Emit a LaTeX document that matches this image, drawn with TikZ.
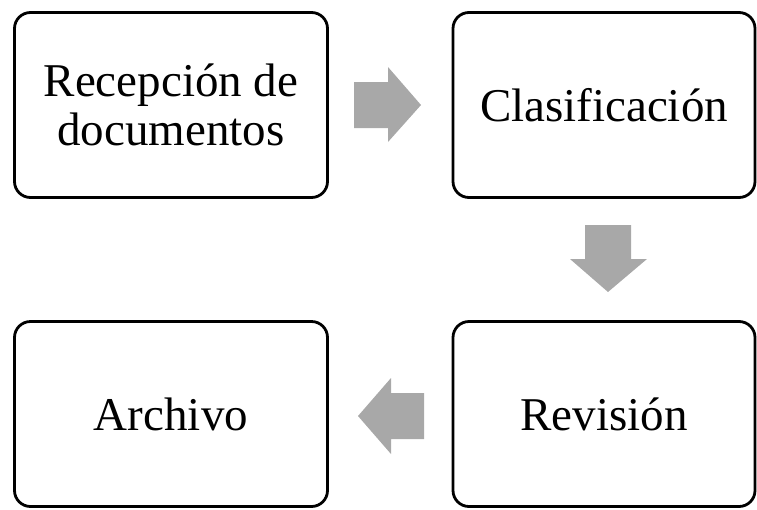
\documentclass[tikz,border=0pt]{standalone}
\usepackage{fontspec}
\setmainfont{Liberation Serif}
\definecolor{arrowgray}{RGB}{168,168,168}
\tikzset{
  stagebox/.style={draw, line width=2.8pt, rounded corners=16pt, align=center,
    minimum width=#1, minimum height=185pt, inner sep=0pt,
    font=\fontsize{47}{49}\selectfont},
  blockarrow/.style={fill=arrowgray}
}

\begin{document}
\begin{tikzpicture}[x=1pt, y=-1pt]
\useasboundingbox (0,0) rectangle (757,509);
\node[stagebox=313pt] (recepcion) at (171,105) {Recepción de\\documentos};
\node[stagebox=302pt] (clasif) at (604,105) {Clasificación};
\node[stagebox=302pt] (revision) at (604,414) {Revisión};
\node[stagebox=313pt] (archivo) at (171,414) {Archivo};
% gray block arrows between the stages
\fill[blockarrow] (354,82) -- (388,82) -- (388,67) -- (421,105) -- (388,142) -- (388,128) -- (354,128) -- cycle;
\fill[blockarrow] (585,225) -- (631,225) -- (631,259) -- (647,259) -- (608,292) -- (570,259) -- (585,259) -- cycle;
\fill[blockarrow] (424,393) -- (391,393) -- (391,378) -- (358,416) -- (391,454) -- (391,439) -- (424,439) -- cycle;
\end{tikzpicture}
\end{document}
